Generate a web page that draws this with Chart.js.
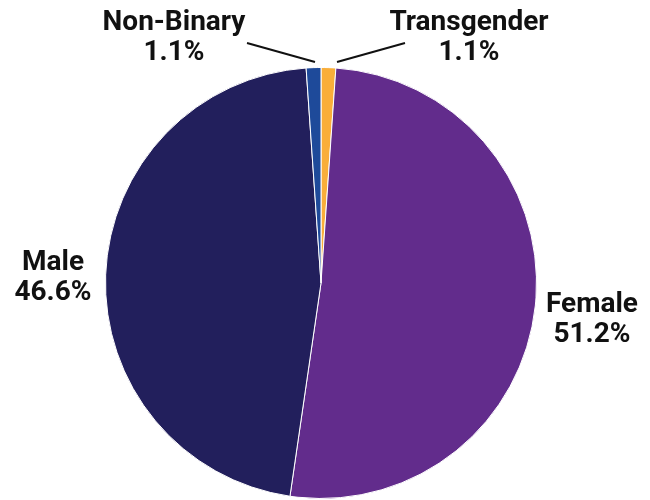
<!DOCTYPE html>
<html>
<head>
<meta charset="utf-8">
<script src="https://cdn.jsdelivr.net/npm/chart.js@4"></script>
<style>
  body { margin: 0; background: #fff; }
  #wrap { width: 650px; height: 500px; }
</style>
</head>
<body>
<div id="wrap"><canvas id="myChart" width="650" height="500"></canvas></div>
<script>
const labels = ['Transgender', 'Female', 'Male', 'Non-Binary'];
const shares = [1.1, 51.2, 46.6, 1.1];
const sliceColors = ['#F9AE3A', '#622C8C', '#221F5C', '#1E4A9A'];

// where each label sits (centre x, baseline of first line), leader lines for thin slices
const labelSpots = [
    { x: 469, y: 30, line: [[405, 43], [337, 62]] },
    { x: 592, y: 312 },
    { x: 53, y: 270 },
    { x: 174, y: 30, line: [[247, 43], [315, 62]] }
];

const outsideLabels = {
    id: 'outsideLabels',
    afterDraw(chart) {
        const ctx = chart.ctx;
        ctx.save();
        ctx.fillStyle = '#111';
        ctx.font = 'bold 28px Roboto, sans-serif';
        ctx.textAlign = 'center';
        ctx.textBaseline = 'alphabetic';
        labelSpots.forEach((s, i) => {
            ctx.fillText(labels[i], s.x, s.y);
            ctx.fillText(shares[i].toFixed(1) + '%', s.x, s.y + 30);
            if (s.line) {
                ctx.strokeStyle = '#111';
                ctx.lineWidth = 2;
                ctx.beginPath();
                ctx.moveTo(s.line[0][0], s.line[0][1]);
                ctx.lineTo(s.line[1][0], s.line[1][1]);
                ctx.stroke();
            }
        });
        ctx.restore();
    }
};

new Chart(document.getElementById('myChart'), {
    type: 'pie',
    data: {
        labels: labels,
        datasets: [{
            data: shares,
            backgroundColor: sliceColors,
            borderColor: '#fff',
            borderWidth: 1
        }]
    },
    options: {
        responsive: false,
        animation: false,
        layout: { padding: { top: 67, bottom: 1, left: 105, right: 113 } },
        plugins: {
            legend: { display: false },
            tooltip: { enabled: false }
        }
    },
    plugins: [outsideLabels]
});
</script>
</body>
</html>
